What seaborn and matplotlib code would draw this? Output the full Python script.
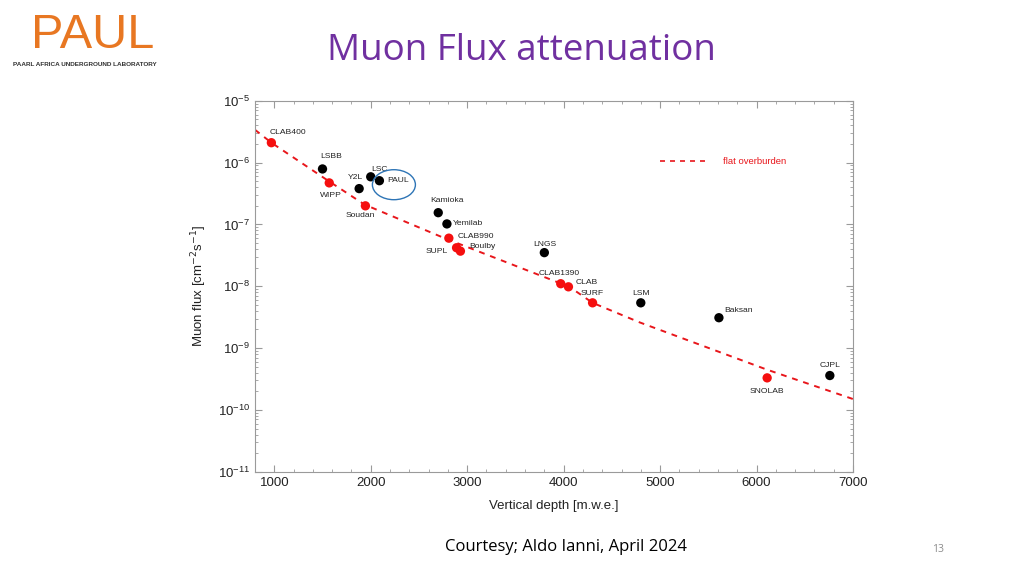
import numpy as np
import pandas as pd
import matplotlib
matplotlib.use("Agg")
import matplotlib.pyplot as plt
import matplotlib.transforms as mtransforms
from matplotlib.patches import Ellipse
from matplotlib.ticker import MultipleLocator, LogLocator, NullFormatter
from matplotlib.lines import Line2D
import seaborn as sns

# Underground labs: vertical depth [m.w.e.] and muon flux [cm^-2 s^-1]
labs = ["CLAB400", "LSBB", "WIPP", "Y2L", "LSC", "PAUL", "Soudan", "Kamioka",
        "Yemilab", "CLAB990", "SUPL", "Boulby", "LNGS", "CLAB1390", "CLAB",
        "SURF", "LSM", "Baksan", "SNOLAB", "CJPL"]
depth = [970, 1500, 1570, 1880, 2000, 2090, 1945, 2700,
         2790, 2810, 2890, 2930, 3800, 3970, 4050,
         4300, 4800, 5610, 6110, 6760]
flux = [2.1e-6, 7.9e-7, 4.7e-7, 3.8e-7, 5.9e-7, 5.1e-7, 2.0e-7, 1.55e-7,
        1.02e-7, 6.0e-8, 4.2e-8, 3.7e-8, 3.5e-8, 1.1e-8, 9.8e-9,
        5.4e-9, 5.4e-9, 3.1e-9, 3.3e-10, 3.6e-10]
site_type = ["flat", "mountain", "flat", "mountain", "mountain", "mountain", "flat", "mountain",
             "mountain", "flat", "flat", "flat", "mountain", "flat", "flat",
             "flat", "mountain", "mountain", "flat", "mountain"]

# label offsets (points) and alignment for each lab
label_dx = [12, 6, 1, -3, 6, 6, -4, 6, 4, 6, -14, 6, 0, -1, 5, 0, 0, 4, 0, 0]
label_dy = [7, 9, -9, 8, 5, 0, -7, 9, 0, 1, -3, 3, 6, 7, 3, 7, 7, 5, -10, 7]
label_ha = ["center", "center", "center", "center", "center", "left", "center", "center",
            "left", "left", "center", "left", "center", "center", "left",
            "center", "center", "left", "center", "center"]

# flat overburden curve
curve_depth = [800, 970, 1550, 1935, 2765, 4060, 4300, 4790, 6105, 7000]
curve_flux = [3.4e-6, 2.1e-6, 5.2e-7, 2.1e-7, 6.0e-8, 9.8e-9, 5.4e-9, 2.6e-9, 4.5e-10, 1.5e-10]

df = pd.DataFrame({"lab": labs, "depth": depth, "flux": flux, "type": site_type})
curve = pd.DataFrame({"depth": curve_depth, "flux": curve_flux})

sns.set_style("ticks")
plt.rcParams["font.family"] = ["Liberation Sans", "DejaVu Sans"]

fig = plt.figure(figsize=(10.24, 5.76), dpi=100)
ax = fig.add_axes([0.249, 0.181, 0.584, 0.644])

sns.lineplot(data=curve, x="depth", y="flux", ax=ax, color="#e8161b",
             linestyle=(0, (3, 3)), linewidth=1.4, sort=False, legend=False)
sns.scatterplot(data=df, x="depth", y="flux", hue="type",
                palette={"flat": "#f50f0f", "mountain": "black"},
                s=45, edgecolor="none", legend=False, ax=ax, zorder=3)

ax.set_yscale("log")
ax.set_xlim(800, 7000)
ax.set_ylim(1e-11, 1e-5)
ax.xaxis.set_major_locator(MultipleLocator(1000))
ax.xaxis.set_minor_locator(MultipleLocator(200))
ax.yaxis.set_major_locator(LogLocator(base=10, numticks=10))
ax.yaxis.set_minor_locator(LogLocator(base=10, subs=np.arange(2, 10), numticks=20))
ax.yaxis.set_minor_formatter(NullFormatter())
ax.tick_params(which="both", direction="in", top=True, right=True, color="#9a9a9a",
               labelsize=9.5, labelcolor="#222222")
ax.tick_params(which="major", length=5)
ax.tick_params(which="minor", length=2.5)
for sp in ax.spines.values():
    sp.set_color("#9a9a9a")
    sp.set_linewidth(0.8)

ax.set_xlabel("Vertical depth [m.w.e.]", fontsize=9.5, color="#222222", labelpad=8)
ax.set_ylabel("Muon flux [cm$^{-2}$s$^{-1}$]", fontsize=9.5, color="#222222", labelpad=6)

for i, name in enumerate(labs):
    ax.annotate(name, (depth[i], flux[i]), xytext=(label_dx[i], label_dy[i]),
                textcoords="offset points", ha=label_ha[i], va="center",
                fontsize=6.1, color="#222222")

# highlight PAUL
pi = labs.index("PAUL")
ell_tr = fig.dpi_scale_trans + mtransforms.ScaledTranslation(depth[pi], flux[pi], ax.transData)
ax.add_patch(Ellipse((0.145, -0.04), 0.43, 0.30, transform=ell_tr, fill=False,
                     edgecolor="#2e75b6", linewidth=1.0, zorder=4))

handle = Line2D([], [], color="#e8161b", linestyle=(0, (3, 3)), linewidth=1.2)
leg = ax.legend([handle], ["flat overburden"], loc="center left",
                bbox_to_anchor=(0.677, 0.836), frameon=False, fontsize=6.8,
                handlelength=5.2, handletextpad=1.5, borderpad=0, borderaxespad=0)
for t in leg.get_texts():
    t.set_color("#e8161b")

# slide decorations
fig.text(0.509, 0.912, "Muon Flux attenuation", ha="center", va="center",
         fontsize=26.5, color="#7030a0", family="Open Sans")
fig.text(0.435, 0.050, "Courtesy; Aldo Ianni, April 2024", ha="left", va="center",
         fontsize=12, color="black", family="Open Sans")
fig.text(0.916, 0.046, "13", ha="center", va="center", fontsize=7.5, color="#8c8c8c",
         family="Open Sans")
fig.text(0.09, 0.938, "PAUL", ha="center", va="center", fontsize=35, color="#e87722")
fig.text(0.083, 0.888, "Paarl Africa Underground Laboratory".upper(), ha="center",
         va="center", fontsize=4.6, color="#333333", weight="bold")

fig.savefig("out.png", dpi=100)
